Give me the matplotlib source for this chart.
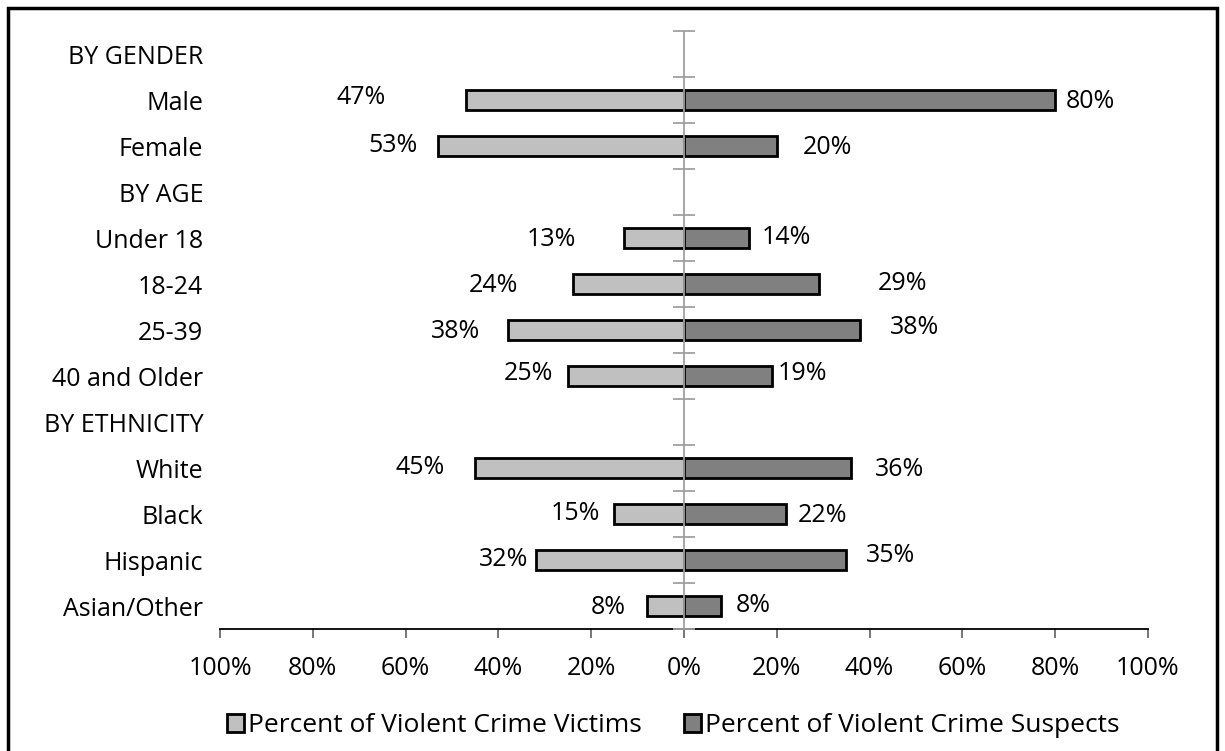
import matplotlib
matplotlib.use("Agg")
import matplotlib.pyplot as plt
import numpy as np
from matplotlib.patches import Rectangle, Patch
from matplotlib.ticker import FuncFormatter

plt.rcParams['font.family'] = ['Open Sans', 'DejaVu Sans']

categories = ["BY GENDER", "Male", "Female", "BY AGE", "Under 18", "18-24", "25-39",
              "40 and Older", "BY ETHNICITY", "White", "Black", "Hispanic", "Asian/Other"]
victims = [None, 47, 53, None, 13, 24, 38, 25, None, 45, 15, 32, 8]
suspects = [None, 80, 20, None, 14, 29, 38, 19, None, 36, 22, 35, 8]
x_ticks = [-100, -80, -60, -40, -20, 0, 20, 40, 60, 80, 100]
series_names = ["Percent of Violent Crime Victims", "Percent of Violent Crime Suspects"]

# label placement (pixel offsets from bar ends, as in the original manual layout)
victim_gap = [0, 80, 20, 0, 48, 55, 27, 15, 0, 30, 14, 7, 21]
victim_dy = [0, 2, 0, 0, -1, -1, -1, 3, 0, 1, 1, 1, -1]
suspect_gap = [0, 11, 26, 0, 13, 59, 30, 6, 0, 24, 12, 20, 15]
suspect_dy = [0, -1, -1, 0, 0, 0, 2, 2, 0, -1, -1, 4, 1]

C_VICT = "#c0c0c0"
C_SUSP = "#808080"
FS = 18
FS_LEG = 19

W, H = 1225, 751
fig = plt.figure(figsize=(W / 100, H / 100), dpi=100)
ax = fig.add_axes([220 / W, 1 - 629 / H, (1148 - 220) / W, (629 - 31) / H])

n = len(categories)
y = np.arange(n)
v = np.array([np.nan if a is None else a for a in victims], dtype=float)
s = np.array([np.nan if a is None else a for a in suspects], dtype=float)
bh = 0.43
ax.barh(y, -v, height=bh, color=C_VICT, edgecolor="black", linewidth=2, zorder=2)
ax.barh(y, s, height=bh, color=C_SUSP, edgecolor="black", linewidth=2, zorder=2)

for i in range(n):
    if not np.isnan(v[i]):
        ax.annotate(f"{int(v[i])}%", xy=(-v[i], y[i]), xytext=(-victim_gap[i], victim_dy[i]),
                    textcoords="offset pixels", ha="right", va="center", fontsize=FS)
    if not np.isnan(s[i]):
        ax.annotate(f"{int(s[i])}%", xy=(s[i], y[i]), xytext=(suspect_gap[i], suspect_dy[i]),
                    textcoords="offset pixels", ha="left", va="center", fontsize=FS)

ax.set_xlim(-100, 100)
ax.set_ylim(n - 0.5, -0.5)

# center axis line with crossing ticks at category boundaries
ax.axvline(0, color="#a0a0a0", linewidth=1.3, zorder=3)
bounds = np.arange(-0.5, n, 1.0)
ax.plot(np.zeros_like(bounds), bounds, linestyle="none", marker="_", markersize=16,
        markeredgewidth=1.3, color="#a0a0a0", zorder=3, clip_on=False)

ax.set_yticks(y)
ax.set_yticklabels(categories, fontsize=FS)
ax.tick_params(axis="y", length=0, pad=12)

ax.set_xticks(x_ticks)
ax.xaxis.set_major_formatter(FuncFormatter(lambda val, pos: f"{abs(int(round(val)))}%"))
ax.tick_params(axis="x", length=6.5, width=1.2, color="#606060", labelsize=FS, pad=13)

for sp in ["left", "right", "top"]:
    ax.spines[sp].set_visible(False)
ax.spines["bottom"].set_linewidth(1.3)
ax.spines["bottom"].set_color("black")

handles = [Patch(facecolor=C_VICT, edgecolor="black", linewidth=2, label=series_names[0]),
           Patch(facecolor=C_SUSP, edgecolor="black", linewidth=2, label=series_names[1])]
fig.legend(handles=handles, loc="center", bbox_to_anchor=(673 / W, 1 - 726 / H), ncol=2,
           frameon=False, fontsize=FS_LEG, handlelength=0.65, handleheight=0.65,
           handletextpad=0.15, columnspacing=1.6, borderpad=0)

fig.patches.append(Rectangle((8 / W, -0.01), (1217 - 8) / W, (H - 8) / H + 0.01,
                             transform=fig.transFigure, fill=False, edgecolor="black",
                             linewidth=2.5))

fig.savefig("out.png", dpi=100)
